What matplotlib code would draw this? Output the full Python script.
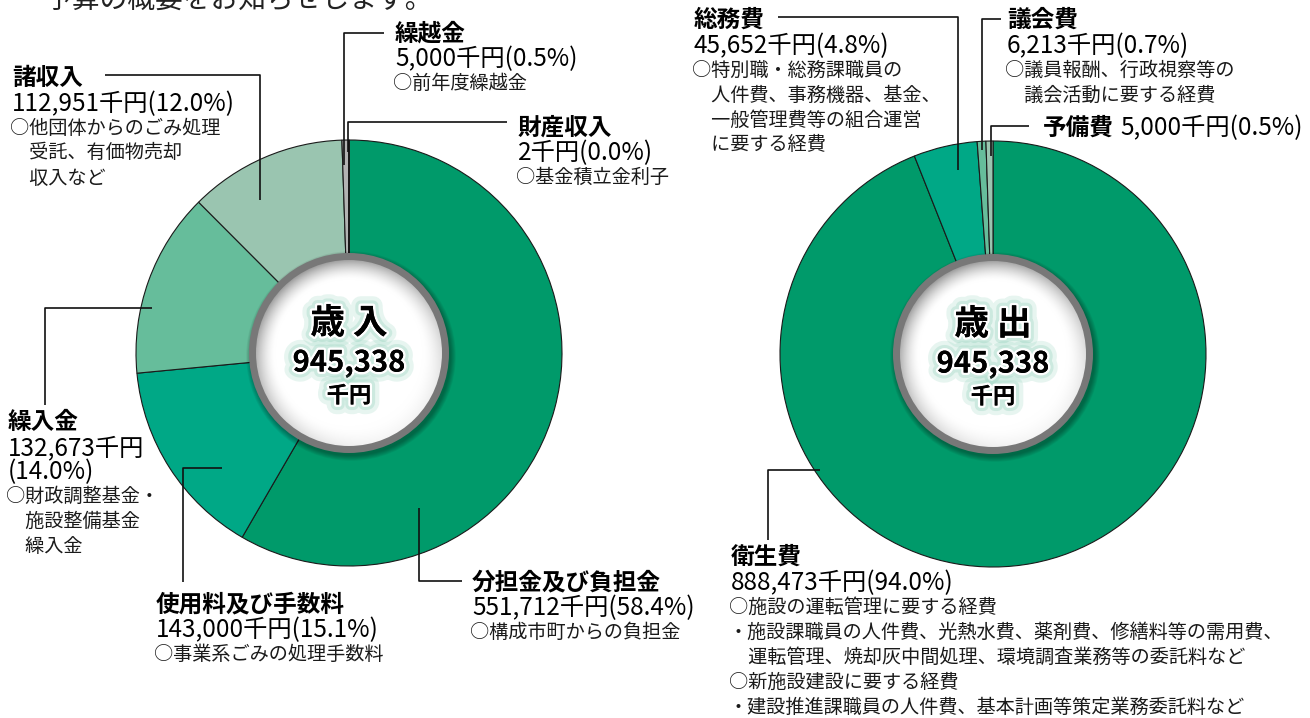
import numpy as np
import matplotlib
matplotlib.use('Agg')
import matplotlib.pyplot as plt
from matplotlib.patches import Circle
import matplotlib.patheffects as pe

plt.rcParams['font.family'] = ['Noto Sans CJK JP', 'DejaVu Sans']

W, H = 1310, 718

# ---------------- data ----------------
total_label = '945,338'

rev_labels = ['分担金及び負担金', '使用料及び手数料', '繰入金', '諸収入', '繰越金', '財産収入']
rev_values = [551712, 143000, 132673, 112951, 5000, 2]
rev_pcts = ['58.4', '15.1', '14.0', '12.0', '0.5', '0.0']
rev_desc = [
    ['○構成市町からの負担金'],
    ['○事業系ごみの処理手数料'],
    ['○財政調整基金・', '　施設整備基金', '　繰入金'],
    ['○他団体からのごみ処理', '　受託、有価物売却', '　収入など'],
    ['○前年度繰越金'],
    ['○基金積立金利子'],
]

exp_labels = ['衛生費', '総務費', '議会費', '予備費']
exp_values = [888473, 45652, 6213, 5000]
exp_pcts = ['94.0', '4.8', '0.7', '0.5']
exp_desc = [
    ['○施設の運転管理に要する経費',
     '・施設課職員の人件費、光熱水費、薬剤費、修繕料等の需用費、',
     '　運転管理、焼却灰中間処理、環境調査業務等の委託料など',
     '○新施設建設に要する経費',
     '・建設推進課職員の人件費、基本計画等策定業務委託料など'],
    ['○特別職・総務課職員の', '　人件費、事務機器、基金、', '　一般管理費等の組合運営', '　に要する経費'],
    ['○議員報酬、行政視察等の', '　議会活動に要する経費'],
    [],
]

rev_colors = ['#009a6a', '#00a886', '#66bd9b', '#9ac5b0', '#b3b3b3', '#b3b3b3']
exp_colors = ['#009a6a', '#00a886', '#66bd9b', '#9ac5b0']

# ---------------- figure ----------------
fig = plt.figure(figsize=(W / 100, H / 100), dpi=100)
ax = fig.add_axes([0, 0, 1, 1])


def Y(y):
    return H - y


def value_str(v, p):
    return f'{v:,}千円({p}%)'


R = 213
left_c = (349, 353)
right_c = (993, 354)

for (cx, cy), vals, cols in [(left_c, rev_values, rev_colors), (right_c, exp_values, exp_colors)]:
    ax.pie(vals, colors=cols, startangle=90, counterclock=False,
           center=(cx, Y(cy)), radius=R,
           wedgeprops=dict(edgecolor='#1a1a1a', linewidth=0.8))


# center discs
def center_disc(cx, cy, title):
    cyd = Y(cy)
    for k in range(7):
        ax.add_patch(Circle((cx + 2, cyd - 3), 100 + k * 0.8, fc='black', alpha=0.05, ec='none', zorder=5))
    ax.add_patch(Circle((cx, cyd), 100, fc='#787878', ec='none', zorder=6))
    Ri = 93
    n = 300
    xs = np.linspace(-Ri, Ri, n)
    X, Yg = np.meshgrid(xs, xs[::-1])
    r = np.hypot(X, Yg)
    ang = np.arctan2(Yg, X)
    direc = 0.55 + 0.45 * np.cos(ang - np.deg2rad(120))
    sh = np.clip((r - 74) / 19, 0, 1) ** 1.6 * 0.38 * direc
    img = np.ones((n, n, 4))
    base = 1 - sh
    img[..., 0] = base
    img[..., 1] = base
    img[..., 2] = base
    img[..., 3] = 1
    im = ax.imshow(img, extent=[cx - Ri, cx + Ri, cyd - Ri, cyd + Ri], zorder=7, interpolation='bilinear')
    clip = Circle((cx, cyd), Ri, transform=ax.transData, fc='none', ec='none')
    ax.add_patch(clip)
    im.set_clip_path(clip)
    effects = [pe.withStroke(linewidth=14, foreground='#7cc9ae', alpha=0.18),
               pe.withStroke(linewidth=8, foreground='#a5d9c7', alpha=0.4),
               pe.withStroke(linewidth=3.5, foreground='white'), pe.Normal()]
    ax.text(cx, Y(cy - 30), title, ha='center', va='center', fontsize=25, fontweight='bold',
            color='black', zorder=9, path_effects=effects)
    ax.text(cx, Y(cy + 10), total_label, ha='center', va='center', fontsize=21, fontweight='bold',
            color='black', zorder=9, path_effects=effects)
    ax.text(cx, Y(cy + 43), '千円', ha='center', va='center', fontsize=16, fontweight='bold',
            color='black', zorder=9, path_effects=effects)


center_disc(left_c[0], left_c[1], '歳 入')
center_disc(right_c[0], right_c[1], '歳 出')


def leader(pts):
    xs = [p[0] for p in pts]
    ys = [Y(p[1]) for p in pts]
    ax.plot(xs, ys, color='#111111', lw=1.2, zorder=10, solid_capstyle='butt')


def label_block(x, y, title, val, desc, step=25, val_step=None):
    ax.text(x, Y(y), title, ha='left', va='center', fontsize=17, fontweight='bold', color='black', zorder=10)
    yy = y + (val_step if val_step else 26)
    if isinstance(val, list):
        for v in val:
            ax.text(x, Y(yy), v, ha='left', va='center', fontsize=17.5, color='black', zorder=10)
            yy += 24
        yy -= 24
    else:
        ax.text(x, Y(yy), val, ha='left', va='center', fontsize=17.5, color='black', zorder=10)
    yy += 24
    for d in desc:
        ax.text(x - 2, Y(yy), d, ha='left', va='center', fontsize=13.8, color='#1a1a1a', zorder=10)
        yy += step


# top cut-off sentence
ax.text(45, Y(0), '予算の概要をお知らせします。', ha='left', va='center', fontsize=20, color='#222222')

# ---- revenue labels ----
# 繰越金
leader([(344, 165), (344, 33), (384, 33)])
label_block(395, 33, rev_labels[4], value_str(rev_values[4], rev_pcts[4]), rev_desc[4], val_step=26)
# 財産収入
leader([(348, 152), (348, 122), (507, 122)])
label_block(518, 128, rev_labels[5], value_str(rev_values[5], rev_pcts[5]), rev_desc[5], val_step=25)
# 諸収入
leader([(105, 75), (260, 75), (260, 200)])
label_block(12, 78, rev_labels[3], value_str(rev_values[3], rev_pcts[3]), rev_desc[3])
# 繰入金
leader([(45, 405), (45, 308), (152, 308)])
label_block(8, 422, rev_labels[2], [f'{rev_values[2]:,}千円', f'({rev_pcts[2]}%)'], rev_desc[2])
# 使用料及び手数料
leader([(183, 582), (183, 468), (222, 468)])
label_block(156, 604, rev_labels[1], value_str(rev_values[1], rev_pcts[1]), rev_desc[1])
# 分担金及び負担金
leader([(419, 508), (419, 581), (462, 581)])
label_block(472, 582, rev_labels[0], value_str(rev_values[0], rev_pcts[0]), rev_desc[0])

# ---- expenditure labels ----
# 総務費
leader([(778, 17), (958, 17), (958, 170)])
label_block(694, 20, exp_labels[1], value_str(exp_values[1], exp_pcts[1]), exp_desc[1])
# 議会費
leader([(982, 150), (982, 19), (1001, 19)])
label_block(1007, 20, exp_labels[2], value_str(exp_values[2], exp_pcts[2]), exp_desc[2])
# 予備費
leader([(991, 156), (991, 126), (1029, 126)])
t = ax.text(1043, Y(128), exp_labels[3], ha='left', va='center', fontsize=17, fontweight='bold',
            color='black', zorder=10)
ax.annotate(value_str(exp_values[3], exp_pcts[3]), xy=(1, 0.5), xycoords=t,
            xytext=(5, 0), textcoords='offset points', ha='left', va='center',
            fontsize=17.5, color='black', zorder=10)
# 衛生費
leader([(820, 470), (768, 470), (768, 540)])
label_block(731, 557, exp_labels[0], value_str(exp_values[0], exp_pcts[0]), exp_desc[0])

ax.set_xlim(0, W)
ax.set_ylim(0, H)
ax.set_aspect('auto')
ax.axis('off')

fig.savefig('out.png', dpi=100, facecolor='white')
